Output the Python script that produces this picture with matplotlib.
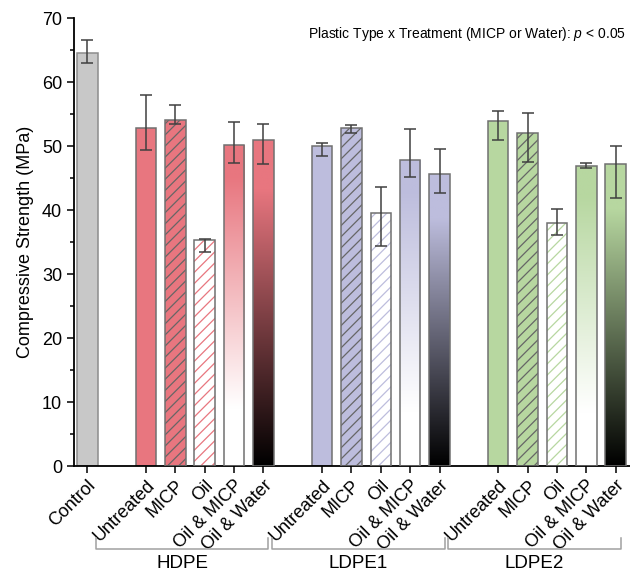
import numpy as np
import matplotlib
matplotlib.use("Agg")
import matplotlib.pyplot as plt
from matplotlib.colors import to_rgb
import matplotlib.transforms as mtransforms

plt.rcParams['font.family'] = ['Liberation Sans', 'DejaVu Sans']
plt.rcParams['mathtext.fontset'] = 'custom'
plt.rcParams['mathtext.rm'] = 'Liberation Sans'
plt.rcParams['mathtext.it'] = 'Liberation Sans:italic'
plt.rcParams['hatch.linewidth'] = 0.9

# ---------------- data ----------------
control_label = 'Control'
control_mean = 64.6
control_err_low = 1.7
control_err_high = 1.9

groups = ['HDPE', 'LDPE1', 'LDPE2']
treatments = ['Untreated', 'MICP', 'Oil', 'Oil & MICP', 'Oil & Water']

hdpe_mean = [52.8, 54.0, 35.3, 50.2, 50.9]
hdpe_err_low = [3.5, 0.6, 1.8, 2.9, 3.7]
hdpe_err_high = [5.1, 2.4, 0.2, 3.6, 2.6]

ldpe1_mean = [50.0, 52.8, 39.6, 47.8, 45.6]
ldpe1_err_low = [1.5, 0.7, 5.3, 2.6, 3.0]
ldpe1_err_high = [0.5, 0.5, 4.0, 4.9, 3.9]

ldpe2_mean = [53.9, 52.1, 38.0, 46.9, 47.2]
ldpe2_err_low = [3.0, 4.6, 1.9, 0.4, 5.4]
ldpe2_err_high = [1.6, 3.1, 2.2, 0.4, 2.8]

annotation = 'Plastic Type x Treatment (MICP or Water): $\\it{p}$ < $\\it{0.05}$'
ylabel = 'Compressive Strength (MPa)'

# ---------------- style ----------------
control_color = '#c8c8c8'
group_colors = ['#e8767f', '#bdbddd', '#b7d7a0']
edge_color = '#707070'
err_color = '#404040'
bar_w = 0.7

means = [hdpe_mean, ldpe1_mean, ldpe2_mean]
lows = [hdpe_err_low, ldpe1_err_low, ldpe2_err_low]
highs = [hdpe_err_high, ldpe1_err_high, ldpe2_err_high]

fig = plt.figure(figsize=(6.3, 5.72), dpi=100)
ax = fig.add_axes([0.1175, 0.1853, 0.8825, 0.7832])


def gradient_bar(x, h, color, mode):
    c = np.array(to_rgb(color))
    n = 256
    f = np.linspace(0, 1, n)[:, None]  # 0 bottom, 1 top
    if mode == 'white':
        t = np.clip((f - 0.18) / 0.72, 0, 1)
        img = (1 - t) * np.ones(3) + t * c
    else:
        t = np.clip(f / 0.85, 0, 1)
        img = t * c
    img = img[:, None, :]
    im = ax.imshow(img, extent=[x - bar_w / 2, x + bar_w / 2, 0, h],
                   origin='lower', aspect='auto', zorder=2, interpolation='bilinear')
    rect = ax.bar(x, h, bar_w, facecolor='none', edgecolor=edge_color, linewidth=1.1, zorder=3)[0]
    im.set_clip_path(rect)


# control
ax.bar(0, control_mean, bar_w, color=control_color, edgecolor='#8c8c8c', linewidth=1.1, zorder=2)
ax.errorbar(0, control_mean, yerr=[[control_err_low], [control_err_high]], fmt='none',
            ecolor=err_color, elinewidth=1.1, capsize=4, capthick=1.1, zorder=5)

tick_pos = [0]
tick_labels = [control_label]
group_starts = []
for gi, g in enumerate(groups):
    start = 2 + gi * 6
    group_starts.append(start)
    col = group_colors[gi]
    for ti, tname in enumerate(treatments):
        x = start + ti
        h = means[gi][ti]
        tick_pos.append(x)
        tick_labels.append(tname)
        if tname == 'Untreated':
            ax.bar(x, h, bar_w, color=col, edgecolor=edge_color, linewidth=1.1, zorder=2)
        elif tname == 'MICP':
            ax.bar(x, h, bar_w, color=col, linewidth=0, zorder=2)
            ax.bar(x, h, bar_w, fill=False, hatch='///', edgecolor='#666666', linewidth=0, zorder=2.5)
            ax.bar(x, h, bar_w, fill=False, edgecolor=edge_color, linewidth=1.1, zorder=3)
        elif tname == 'Oil':
            ax.bar(x, h, bar_w, color='white', linewidth=0, zorder=2)
            ax.bar(x, h, bar_w, fill=False, hatch='///', edgecolor=col, linewidth=0, zorder=2.5)
            ax.bar(x, h, bar_w, fill=False, edgecolor=edge_color, linewidth=1.1, zorder=3)
        elif tname == 'Oil & MICP':
            gradient_bar(x, h, col, 'white')
        else:
            gradient_bar(x, h, col, 'black')
        ax.errorbar(x, h, yerr=[[lows[gi][ti]], [highs[gi][ti]]], fmt='none',
                    ecolor=err_color, elinewidth=1.1, capsize=4, capthick=1.1, zorder=5)

ax.set_xlim(-0.453, 18.49)
ax.set_ylim(0, 70)
ax.set_yticks(np.arange(0, 71, 10))
ax.set_yticks(np.arange(5, 70, 10), minor=True)
ax.set_xticks(tick_pos)
ax.set_xticklabels(tick_labels, rotation=45, ha='right', va='top', rotation_mode='anchor', fontsize=13)
ax.tick_params(axis='y', labelsize=13, length=5, width=1.1, direction='out')
ax.tick_params(axis='y', which='minor', length=3, width=1.1)
ax.tick_params(axis='x', length=5, width=1.1, direction='out', pad=3)
for s in ['top', 'right']:
    ax.spines[s].set_visible(False)
for s in ['left', 'bottom']:
    ax.spines[s].set_linewidth(1.3)
ax.set_ylabel(ylabel, fontsize=13, labelpad=6)

ax.text(0.993, 0.965, annotation, transform=ax.transAxes, ha='right', va='center', fontsize=10)

# group brackets
trans = mtransforms.blended_transform_factory(ax.transData, ax.transAxes)
y_line = -0.185
y_top = -0.161
for gi, g in enumerate(groups):
    x0 = group_starts[gi] - 1.7
    x1 = group_starts[gi] + len(treatments) - 1 + 0.17
    ax.plot([x0, x0, x1, x1], [y_top, y_line, y_line, y_top], color='#a0a0a0', lw=1.1,
            transform=trans, clip_on=False)
    ax.text((x0 + x1) / 2, -0.218, g, transform=trans, ha='center', va='center', fontsize=13.5)

fig.savefig('out.png', dpi=100)
